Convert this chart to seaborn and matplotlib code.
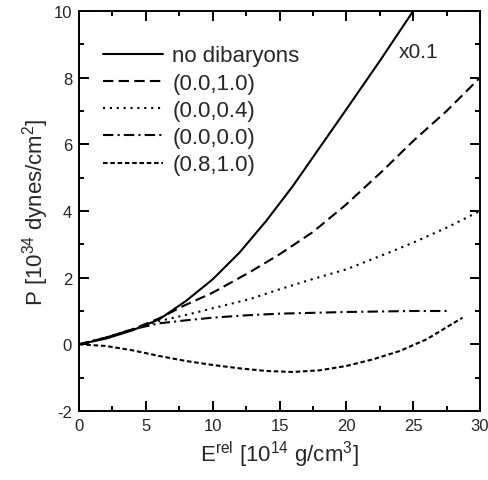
import matplotlib
matplotlib.use("Agg")
import matplotlib.pyplot as plt
import seaborn as sns
import pandas as pd

# energy density [10^14 g/cm^3] and pressure [10^34 dynes/cm^2]
e_nodib = [0, 2, 4, 6, 8, 10, 12, 14, 16, 18, 20, 22.5, 25]
p_nodib = [0, 0.17, 0.42, 0.75, 1.3, 1.95, 2.75, 3.7, 4.75, 5.9, 7.05, 8.5, 10.0]

e_d10 = [0, 2, 4, 6, 7.8, 10, 12.8, 15, 17.5, 20, 22.7, 25, 27.5, 30]
p_d10 = [0, 0.2, 0.45, 0.78, 1.15, 1.55, 2.17, 2.7, 3.37, 4.2, 5.2, 6.1, 7.0, 8.0]

e_d04 = [0, 2, 4, 6, 8, 10, 12.8, 15, 17.5, 20, 23.3, 25, 27.5, 30]
p_d04 = [0, 0.2, 0.45, 0.7, 0.88, 1.08, 1.36, 1.65, 1.96, 2.25, 2.77, 3.05, 3.5, 4.0]

e_d00 = [0, 2, 4, 6, 8, 10, 12.5, 15, 20, 25, 27.5]
p_d00 = [0, 0.2, 0.45, 0.63, 0.72, 0.8, 0.87, 0.92, 0.97, 1.0, 1.0]

e_d81 = [0, 2, 4, 6, 8, 10, 12, 14, 16, 18, 20, 22, 24, 26, 28.7]
p_d81 = [0, -0.05, -0.18, -0.35, -0.5, -0.62, -0.72, -0.8, -0.83, -0.78, -0.65, -0.45, -0.2, 0.15, 0.8]

labels = ["no dibaryons", "(0.0,1.0)", "(0.0,0.4)", "(0.0,0.0)", "(0.8,1.0)"]

sns.set_style("ticks")
plt.rcParams['font.family'] = ['Liberation Sans', 'DejaVu Sans']
plt.rcParams['mathtext.default'] = 'regular'
plt.rcParams['axes.unicode_minus'] = False

fig = plt.figure(figsize=(4.89, 4.81), dpi=100)
ax = fig.add_axes([0.1616, 0.1435, 0.82, 0.8315])

series = [
    (e_nodib, p_nodib, "-"),
    (e_d10, p_d10, (0, (5, 2.5))),
    (e_d04, p_d04, (0, (1, 2.3))),
    (e_d00, p_d00, (0, (5, 2, 1, 2))),
    (e_d81, p_d81, (0, (2.2, 1.3))),
]
for (e, p, ls), lab in zip(series, labels):
    df = pd.DataFrame({"E": e, "P": p})
    sns.lineplot(data=df, x="E", y="P", ax=ax, color="black", lw=1.5,
                 linestyle=ls, label=lab)

ax.set_xlim(0, 30)
ax.set_ylim(-2, 10)
ax.set_xticks([0, 5, 10, 15, 20, 25, 30])
ax.set_yticks([-2, 0, 2, 4, 6, 8, 10])
ax.set_xticks([2.5, 7.5, 12.5, 17.5, 22.5, 27.5], minor=True)
ax.set_yticks([-1, 1, 3, 5, 7, 9], minor=True)
# inward ticks on all four sides, like the original
ax.tick_params(which="major", direction="in", length=7, width=1.4,
               color="black", labelsize=12, pad=5)
ax.tick_params(which="minor", direction="in", length=3.5, width=1.4,
               color="black")
ax.tick_params(which="both", top=True, right=True)
for s in ax.spines.values():
    s.set_linewidth(1.4)
    s.set_color("black")

ax.set_xlabel("E$^{rel}$ [10$^{14}$ g/cm$^{3}$]", fontsize=16, labelpad=4)
ax.set_ylabel("P [10$^{34}$ dynes/cm$^{2}$]", fontsize=16, labelpad=2)

ax.text(23.9, 8.8, "x0.1", fontsize=15, ha="left", va="center")

ax.legend(loc="upper left", frameon=False, fontsize=16, handlelength=2.7,
          handletextpad=0.4, labelspacing=0.28, borderpad=0.3,
          borderaxespad=0.8, bbox_to_anchor=(0.0, 0.975))

fig.savefig("out.png", dpi=100)
